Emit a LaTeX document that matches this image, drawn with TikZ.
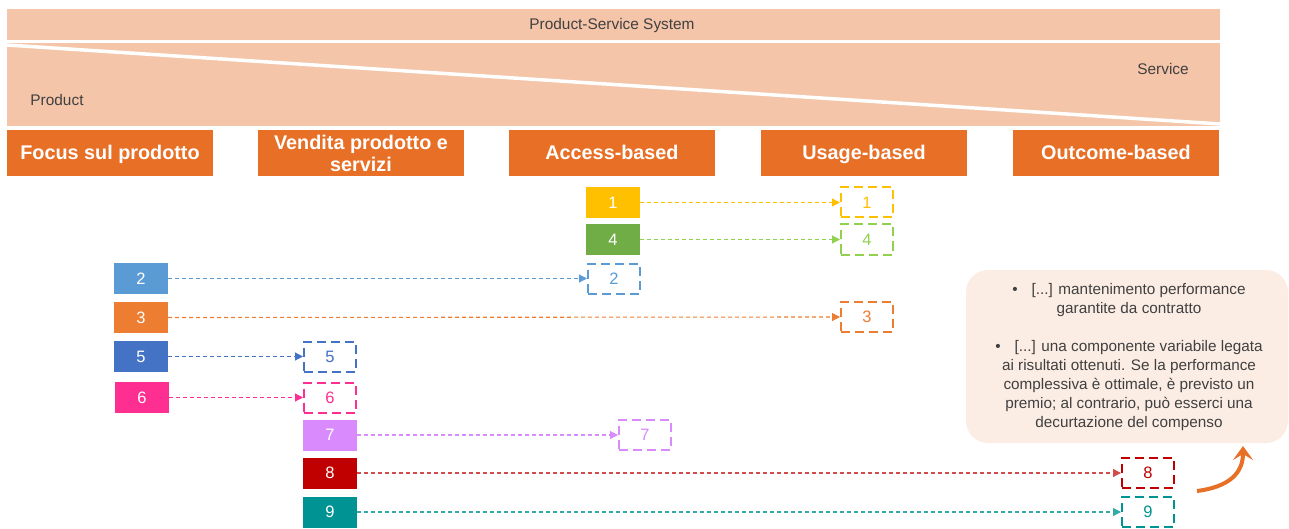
\documentclass[tikz,border=0pt]{standalone}
\usepackage{fontspec}
\setmainfont{Liberation Sans}
\usetikzlibrary{arrows.meta}
\definecolor{band}{HTML}{F4C5A9}
\definecolor{hdr}{HTML}{E76F26}
\definecolor{ink}{HTML}{404040}
\definecolor{cYel}{HTML}{FFC000}
\definecolor{cGrn}{HTML}{70AD47}
\definecolor{cGrnL}{HTML}{92D050}
\definecolor{cBlu}{HTML}{5B9BD5}
\definecolor{cOrg}{HTML}{ED7D31}
\definecolor{cBlu2}{HTML}{4472C4}
\definecolor{cPnk}{HTML}{FF2F92}
\definecolor{cPur}{HTML}{D98AFC}
\definecolor{cRed}{HTML}{C00000}
\definecolor{cTea}{HTML}{009393}
\definecolor{note}{HTML}{FCEDE4}
\tikzset{
  header/.style={fill=hdr, text=white, font=\fontsize{19.8}{22.5}\selectfont\bfseries,
    minimum width=206pt, minimum height=46pt, inner sep=0pt, align=center},
  headerone/.style={header, text height=15pt, text depth=1pt},
  solidbox/.style={fill=#1, text=white, font=\fontsize{16.5}{17}\selectfont,
    minimum width=54pt, minimum height=31pt, inner sep=0pt},
  dashbox/.style={draw=#1, text=#1, fill=white, line width=2pt, dash pattern=on 9pt off 5pt,
    font=\fontsize{16.5}{17}\selectfont, minimum width=52pt, minimum height=30pt, inner sep=0pt},
  link/.style={draw=#1, line width=1.1pt, dash pattern=on 4pt off 3pt,
    -{Triangle[length=8pt,width=8pt]}},
  bandtext/.style={text=ink, font=\fontsize{15.4}{17}\selectfont, inner sep=0pt}
}
\begin{document}
\begin{tikzpicture}[x=1pt,y=-1pt]
\useasboundingbox (0,0) rectangle (1289,529);

% top bands
\fill[band] (7,9) rectangle (1220,40);
\node[bandtext] (pss) at (612,25.5) {Product-Service System};
\fill[band] (7,43) rectangle (1220,126);
\draw[white, line width=3.5pt] (7,45) -- (1220,124);
\node[bandtext] (svc) at (1163,69) {Service};
\node[bandtext] (prd) at (57,100) {Product};

% column headers
\node[headerone] (h1) at (110,153) {Focus sul prodotto};
\node[header] (h2) at (361,153.5) {Vendita prodotto e\\servizi};
\node[headerone] (h3) at (612,153) {Access-based};
\node[headerone] (h4) at (864,153) {Usage-based};
\node[headerone] (h5) at (1116,153) {Outcome-based};

% starting positions
\node[solidbox=cYel] (s1) at (613,202.5) {1};
\node[solidbox=cGrn] (s4) at (613,239.5) {4};
\node[solidbox=cBlu] (s2) at (141,278.5) {2};
\node[solidbox=cOrg] (s3) at (141,317.5) {3};
\node[solidbox=cBlu2] (s5) at (141,356.5) {5};
\node[solidbox=cPnk] (s6) at (142,397.5) {6};
\node[solidbox=cPur] (s7) at (330,435) {7};
\node[solidbox=cRed] (s8) at (330,473) {8};
\node[solidbox=cTea] (s9) at (330,512) {9};

% target positions
\node[dashbox=cYel] (t1) at (867,202.5) {1};
\node[dashbox=cGrnL] (t4) at (867,239.5) {4};
\node[dashbox=cBlu] (t2) at (614,278.5) {2};
\node[dashbox=cOrg] (t3) at (867,317) {3};
\node[dashbox=cBlu2] (t5) at (330,356.5) {5};
\node[dashbox=cPnk] (t6) at (330,397.5) {6};
\node[dashbox=cPur] (t7) at (645,435) {7};
\node[dashbox=cRed] (t8) at (1148,473) {8};
\node[dashbox=cTea] (t9) at (1148,512) {9};

% shifts
\draw[link=cYel] (s1.east) -- (t1.west);
\draw[link=cGrnL] (s4.east) -- (t4.west);
\draw[link=cBlu] (s2.east) -- (t2.west);
\draw[link=cOrg] (s3.east) -- (t3.west);
\draw[link=cBlu2] (s5.east) -- (t5.west);
\draw[link=cPnk] (s6.east) -- (t6.west);
\draw[link=cPur] (s7.east) -- (t7.west);
\draw[link=cRed!70] (s8.east) -- (t8.west);
\draw[link=cTea!80] (s9.east) -- (t9.west);

% outcome-based note
\node[fill=note, rounded corners=22pt, minimum width=322pt, minimum height=173pt,
      inner sep=0pt] (nb) at (1127,356.5) {};
\node[text=ink, font=\fontsize{15.3}{19}\selectfont, align=center, inner sep=0pt]
  (nt) at (1129,357) {\textbullet\hspace{0.9em}[...] mantenimento performance\\
  garantite da contratto\\[19pt]
  \textbullet\hspace{0.9em}[...] una componente variabile legata\\
  ai risultati ottenuti. Se la performance\\
  complessiva è ottimale, è previsto un\\
  premio; al contrario, può esserci una\\
  decurtazione del compenso};

\coordinate (cs) at (1197,491);
\coordinate (ce) at (1243,446);
\draw[hdr, line width=4pt, -{Stealth[length=14pt,width=20pt,inset=6pt]}]
  (cs) .. controls (1228,487) and (1243,474) .. (ce);
\end{tikzpicture}
\end{document}
